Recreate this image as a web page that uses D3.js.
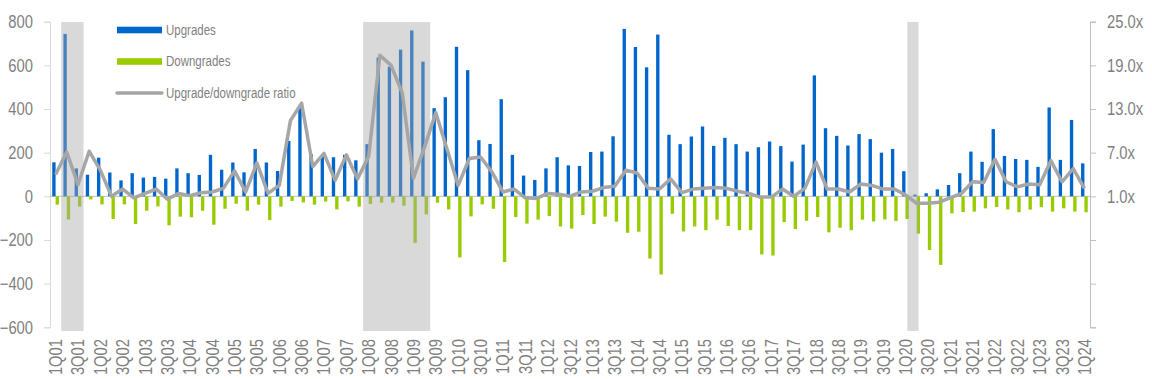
<!DOCTYPE html>
<html><head><meta charset="utf-8">
<script src="https://cdn.jsdelivr.net/npm/d3@7"></script>
<style>
html,body{margin:0;padding:0;background:#fff;}
svg{display:block;}
text{font-family:'Liberation Sans Narrow','Arial Narrow','Liberation Sans',Arial,sans-serif;fill:#7f7f7f;}
</style></head>
<body>
<svg id="chart" width="1152" height="379"></svg>
<script>
// ---- data ----
const startYear = 2001;
const quarterCount = 93; // 1Q01 .. 1Q24
const categories = [];
for (let i = 0; i < quarterCount; i++) {
  categories.push((i % 4 + 1) + "Q" + String((startYear + Math.floor(i / 4)) % 100).padStart(2, "0"));
}
const upgrades = [156,744,128,99,177,109,73,106,86,89,81,128,106,98,190,122,155,110,217,155,
  116,254,408,193,187,179,190,165,239,636,594,672,760,617,404,454,685,578,257,240,
  445,190,95,75,128,179,142,139,203,205,275,767,684,591,741,282,239,274,320,231,
  268,239,205,225,251,230,159,237,554,312,277,233,285,262,200,217,115,8,14,32,
  52,106,205,158,308,185,171,167,135,407,167,350,151];
const downgrades = [-38,-106,-47,-14,-37,-104,-37,-127,-66,-46,-133,-93,-96,-66,-130,-57,-34,-66,-38,-109,
  -47,-21,-28,-38,-24,-60,-23,-47,-35,-29,-29,-43,-213,-83,-29,-60,-280,-92,-37,-57,
  -301,-95,-125,-107,-90,-138,-148,-86,-127,-93,-116,-167,-162,-285,-358,-80,-161,-138,-155,-107,
  -136,-155,-155,-266,-271,-118,-150,-112,-95,-165,-144,-155,-107,-115,-106,-113,-104,-171,-246,-314,
  -78,-72,-70,-55,-49,-60,-73,-61,-50,-70,-55,-70,-73];
const ratio = [4.0,7.1,2.6,7.2,4.6,1.0,2.0,0.8,1.4,2.0,0.6,1.4,1.1,1.5,1.6,2.1,4.5,1.6,5.6,1.4,
  2.5,11.4,13.8,5.1,6.9,3.2,6.7,3.4,6.5,20.4,19.0,15.2,3.5,7.8,12.5,7.5,2.5,6.2,6.4,4.4,
  1.6,2.0,0.8,0.7,1.4,1.3,1.0,1.6,1.7,2.2,2.4,4.6,4.2,2.1,2.0,3.4,1.5,2.0,2.1,2.2,
  2.1,1.7,1.4,0.9,0.9,2.0,1.0,2.1,5.7,2.0,2.0,1.6,2.7,2.5,2.0,2.0,1.2,0.05,0.05,0.2,
  0.8,1.4,3.0,2.9,6.1,3.0,2.3,2.7,2.6,5.9,3.0,4.8,2.1];
const leftTicks = [-600,-400,-200,0,200,400,600,800];
const rightTicks = [-17,-11,-5,1,7,13,19,25];
const rightLabelled = [1,7,13,19,25];
const recessionStart = ["2001-04","2008-01","2020-03"];
const recessionEnd = ["2001-09","2009-06","2020-05"];
const seriesNames = ["Upgrades","Downgrades","Upgrade/downgrade ratio"];

// ---- layout ----
const svg = d3.select("#chart");
const L = 50, R = 1090, T = 21.7, B = 327.3;
const C = {blue:"#0066cc", green:"#99cc00", line:"#a6a6a6", axis:"#d9d9d9", zero:"#bfbfbf"};

const x = d3.scaleBand().domain(categories).range([L, R]).paddingInner(0).paddingOuter(0);
const y = d3.scaleLinear().domain([-600, 800]).range([B, T]);
const y2 = d3.scaleLinear().domain([-17, 25]).range([B, T]);
const totalMonths = quarterCount * 3;
const xm = d3.scaleLinear().domain([0, totalMonths]).range([L, R]);
const monthIdx = s => { const [yy, mm] = s.split("-").map(Number); return (yy - startYear) * 12 + (mm - 1); };

const bw = x.bandwidth() * 0.3;
const cx = c => x(c) + x.bandwidth() / 2;

// condense text horizontally (narrow face emulation)
function narrow(sel) {
  sel.each(function () {
    const n = this.getComputedTextLength();
    if (n > 0) {
      d3.select(this).attr("textLength", n * 0.82).attr("lengthAdjust", "spacingAndGlyphs");
    }
  });
}

// left axis
const gL = svg.append("g").attr("transform", `translate(${L},0)`)
  .call(d3.axisLeft(y).tickValues(leftTicks).tickSize(6).tickPadding(11).tickFormat(d3.format("d")));
gL.select(".domain").attr("stroke", C.axis);
gL.selectAll(".tick line").attr("stroke", C.axis);
gL.selectAll(".tick text").style("font-size", "18px").attr("fill", "#7f7f7f").call(narrow);

// right axis
const gR = svg.append("g").attr("transform", `translate(${R},0)`)
  .call(d3.axisRight(y2).tickValues(rightTicks).tickSize(6).tickPadding(11)
    .tickFormat(d => rightLabelled.includes(d) ? d3.format(".1f")(d) + "x" : ""));
gR.select(".domain").attr("stroke", "#bfbfbf");
gR.selectAll(".tick line").attr("stroke", "#bfbfbf");
gR.selectAll(".tick text").style("font-size", "18px").attr("fill", "#7f7f7f").call(narrow);

// zero line
svg.append("line").attr("x1", L).attr("x2", R).attr("y1", y(0)).attr("y2", y(0))
  .attr("stroke", C.zero).attr("stroke-width", 1);

// bars
svg.append("g").selectAll("rect").data(upgrades).join("rect")
  .attr("x", (d, i) => cx(categories[i]) - bw)
  .attr("width", bw)
  .attr("y", d => y(d)).attr("height", d => y(0) - y(d))
  .attr("fill", C.blue);
svg.append("g").selectAll("rect").data(downgrades).join("rect")
  .attr("x", (d, i) => cx(categories[i]))
  .attr("width", bw)
  .attr("y", y(0)).attr("height", d => y(d) - y(0))
  .attr("fill", C.green);

// recession shading (semi-transparent over bars)
svg.append("g").selectAll("rect").data(recessionStart).join("rect")
  .attr("x", (d, i) => xm(monthIdx(d)))
  .attr("width", (d, i) => xm(monthIdx(recessionEnd[i]) + 1) - xm(monthIdx(d)))
  .attr("y", 22).attr("height", 331 - 22)
  .attr("fill", "rgb(168,168,168)").attr("fill-opacity", 0.44);

// ratio line
svg.append("path").datum(ratio)
  .attr("d", d3.line().x((d, i) => cx(categories[i])).y(d => y2(d)))
  .attr("fill", "none").attr("stroke", C.line).attr("stroke-width", 3.5)
  .attr("stroke-linejoin", "round");

// category labels
const gX = svg.append("g");
categories.forEach((c, i) => {
  if (i % 2 !== 0) return;
  gX.append("text")
    .attr("transform", `translate(${cx(c) + 6.5},339) rotate(-90)`)
    .attr("text-anchor", "end")
    .style("font-size", "18px")
    .text(c);
});
gX.selectAll("text").call(narrow);

// legend
const lg = svg.append("g");
const legY = [30, 61.5, 93];
lg.append("rect").attr("x", 117).attr("y", legY[0] - 3.3).attr("width", 45).attr("height", 6.6).attr("fill", C.blue);
lg.append("rect").attr("x", 117).attr("y", legY[1] - 3.3).attr("width", 45).attr("height", 6.6).attr("fill", C.green);
lg.append("line").attr("x1", 117).attr("x2", 162).attr("y1", legY[2]).attr("y2", legY[2])
  .attr("stroke", C.line).attr("stroke-width", 3.5).attr("stroke-linecap", "round");
seriesNames.forEach((n, i) => {
  lg.append("text").attr("x", 166).attr("y", legY[i]).attr("dy", "0.35em")
    .style("font-size", "14px").text(n);
});
lg.selectAll("text").call(narrow);
</script>
</body></html>
